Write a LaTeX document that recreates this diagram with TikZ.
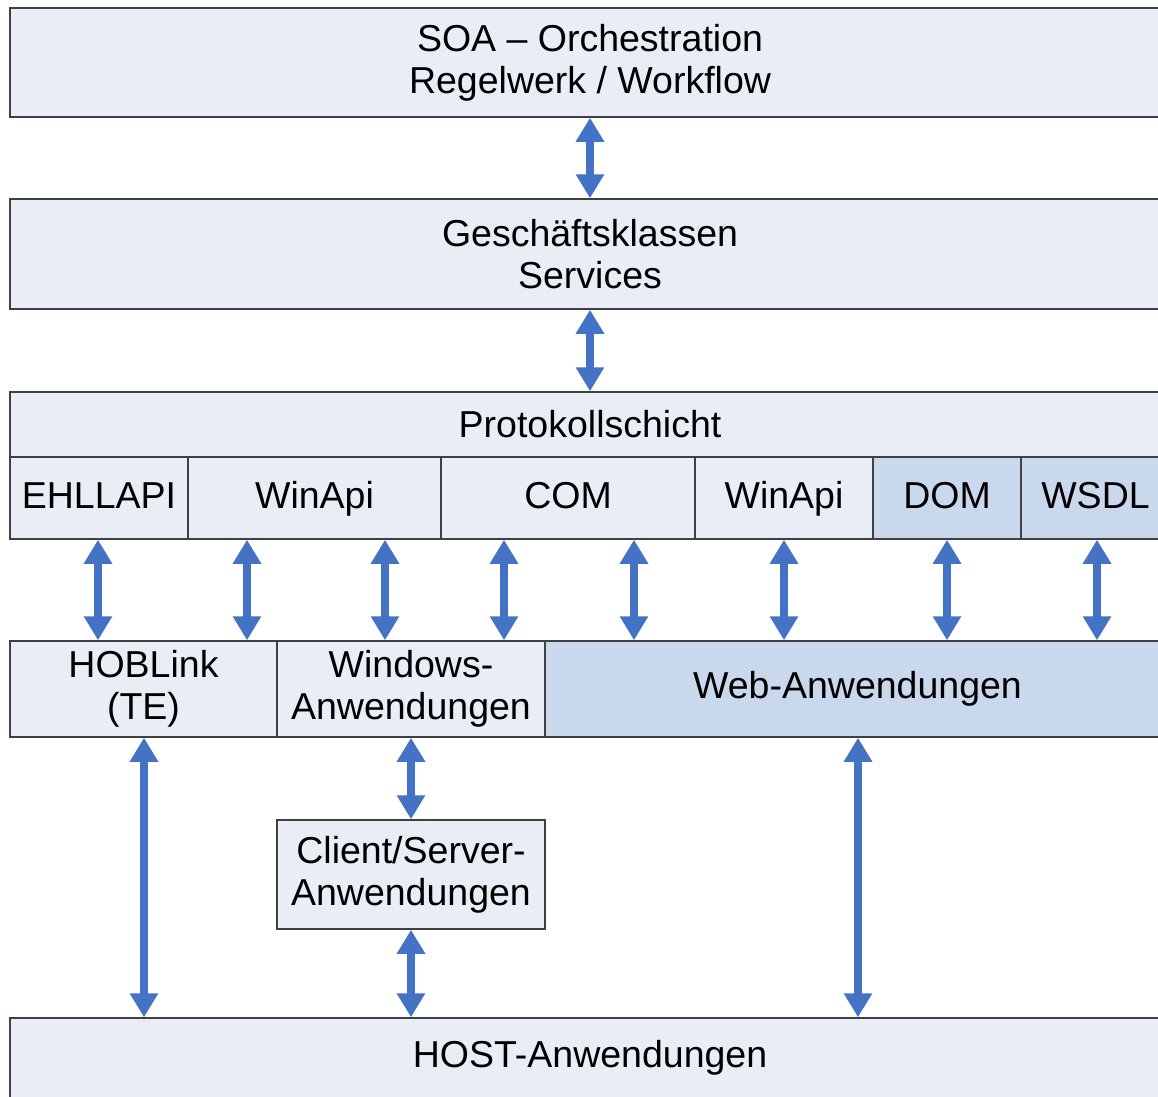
\documentclass[tikz,border=0pt]{standalone}
\usepackage{fontspec}
\setmainfont{Liberation Sans}
\usetikzlibrary{arrows.meta}

\begin{document}
\begin{tikzpicture}[x=1pt,y=-1pt,
  layer/.style={draw=boxline,line width=1.5pt,fill=boxfill,inner sep=0pt,align=center,
    font=\fontsize{37.5}{42}\selectfont},
  webbox/.style={layer,fill=webfill},
  cell/.style={minimum height=82pt,text height=30pt,text depth=9pt},
  link/.style={draw=arrowblue,line width=8pt,<->,>={Triangle[width=27pt,length=24pt]}}]
% Define colours
\definecolor{boxfill}{RGB}{233,237,246}
\definecolor{webfill}{RGB}{202,216,237}
\definecolor{boxline}{RGB}{64,64,64}
\definecolor{arrowblue}{RGB}{68,114,196}

\useasboundingbox (0,0) rectangle (1158,1096);

% Draw upper layers
\node[layer,minimum width=1160pt,minimum height=109pt] (soa) at (590,62.5) {SOA – Orchestration\\Regelwerk / Workflow};
\node[layer,minimum width=1160pt,minimum height=110pt] (ges) at (590,254) {Geschäftsklassen\\Services};
\node[layer,minimum width=1160pt,minimum height=65pt] (proto) at (590,424.5) {Protokollschicht};

% Draw protocol boxes
\node[layer,cell,minimum width=178pt] (ehl) at (99,498) {EHLLAPI};
\node[layer,cell,minimum width=253pt] (win1) at (314.5,498) {WinApi};
\node[layer,cell,minimum width=254pt] (com) at (568,498) {COM};
\node[layer,cell,minimum width=178pt] (win2) at (784,498) {WinApi};
\node[webbox,cell,minimum width=148pt] (dom) at (947,498) {DOM};
\node[webbox,cell,minimum width=149pt] (wsdl) at (1095.5,498) {WSDL};

% Draw application boxes
\node[layer,minimum width=267pt,minimum height=96pt] (hob) at (143.5,689) {HOBLink\\(TE)};
\node[layer,minimum width=268pt,minimum height=96pt] (wina) at (411,689) {Windows-\\Anwendungen};
\node[webbox,minimum width=625pt,minimum height=96pt] (web) at (857.5,689) {Web-Anwendungen};
\node[layer,minimum width=268pt,minimum height=109pt] (cs) at (411,874.5) {Client/Server-\\Anwendungen};
\node[layer,minimum width=1160pt,minimum height=80pt] (host) at (590,1058) {HOST-Anwendungen};

% Add arrows
\draw[link] (soa.south) -- (ges.north);
\draw[link] (ges.south) -- (proto.north);
\foreach \x/\a/\b in {98/ehl/hob,247/win1/hob,385/win1/wina,504/com/wina,634/com/web,784/win2/web,947/dom/web,1097/wsdl/web}
  \draw[link] (\a.south -| \x,0) -- (\b.north -| \x,0);
\draw[link] (hob.south -| 144,0) -- (host.north -| 144,0);
\draw[link] (wina.south) -- (cs.north);
\draw[link] (cs.south) -- (host.north -| cs.south);
\draw[link] (web.south -| 858,0) -- (host.north -| 858,0);
\end{tikzpicture}
\end{document}
